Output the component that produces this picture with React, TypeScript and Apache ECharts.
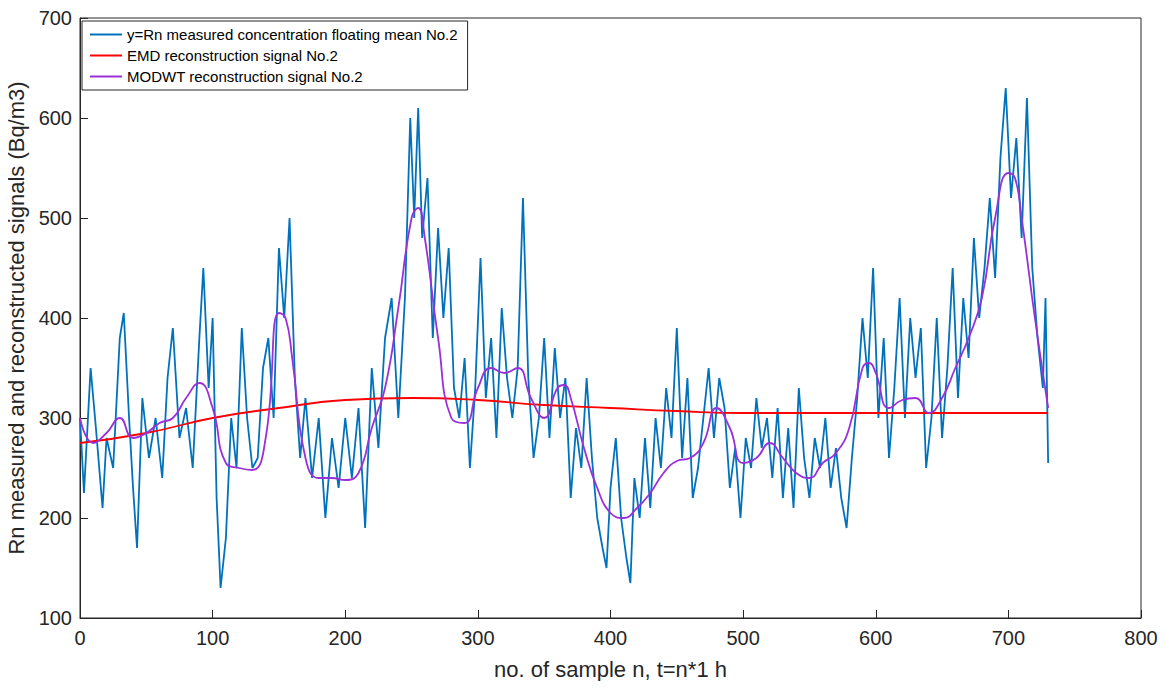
import { useEffect, useRef } from 'react'
import * as echarts from 'echarts'

// measured concentration (sample n, value)
const measuredN = [0,3,8,12,17,20,25,30,33,37,40,43,47,52,57,62,66,70,75,80,85,90,93,97,100,103,106,110,114,118,122,126,130,134,138,142,146,150,154,158,162,166,170,175,180,185,190,195,200,205,210,215,220,225,230,235,240,245,249,252,255,258,262,266,270,274,278,282,286,290,294,298,302,306,310,314,318,322,326,330,334,338,342,346,350,354,358,362,366,370,374,378,382,386,390,394,397,400,404,408,412,415,418,422,426,430,434,438,442,446,450,454,458,462,466,470,474,478,482,486,490,494,498,502,506,510,514,518,522,526,530,534,538,542,546,550,554,558,562,566,570,574,578,582,586,590,594,598,602,606,610,614,618,622,626,630,634,638,642,646,650,654,658,662,666,670,674,678,682,686,690,694,698,702,706,710,714,718,722,726,728,730]
const measuredV = [300,225,350,290,210,280,250,380,405,300,230,170,320,260,300,240,340,390,280,310,250,380,450,330,400,220,130,180,300,250,390,300,250,260,350,380,300,470,400,500,340,260,320,240,300,200,280,230,300,240,310,190,350,270,380,420,300,420,600,500,610,480,540,380,490,400,470,330,300,360,250,330,460,320,380,280,410,340,300,350,520,340,260,300,380,280,370,300,340,220,290,250,340,260,200,170,150,230,280,200,160,135,240,200,280,210,300,250,330,280,390,260,340,220,250,300,350,280,340,310,230,270,200,280,250,320,270,300,240,310,220,290,210,330,260,220,280,250,300,230,270,220,190,260,320,400,340,450,300,380,260,330,420,300,400,340,390,250,300,400,280,350,450,320,420,360,480,400,450,520,440,560,630,520,580,480,620,450,380,330,420,255]

const modwtN = [0,10,20,30,40,50,60,70,80,90,100,110,120,130,140,150,155,160,170,180,190,200,210,220,230,240,250,255,260,270,280,290,300,310,320,330,340,350,360,365,370,380,390,400,410,420,430,440,450,460,470,480,490,500,510,520,530,540,550,560,570,580,590,595,600,610,620,630,640,650,660,670,680,690,700,705,710,720,730]
const modwtV = [300,275,285,300,280,285,295,300,320,335,310,255,250,248,280,405,400,360,260,240,240,238,245,290,330,410,500,510,480,380,300,295,330,350,345,350,320,300,330,333,320,270,230,205,200,210,225,245,257,260,275,310,290,255,260,275,260,245,240,255,265,290,350,355,345,310,318,320,305,320,350,380,420,500,545,540,500,400,310]

const emdN = [0,50,100,150,200,250,300,350,400,450,500,550,600,650,730]
const emdV = [275,285,300,310,318,320,318,313,310,307,305,305,305,305,305]

const zip = (a: number[], b: number[]) => a.map((x, i) => [x, b[i]])

export default function App() {
  const ref = useRef<HTMLDivElement>(null)

  useEffect(() => {
    if (!ref.current) return
    const chart = echarts.init(ref.current, null, { renderer: 'svg' })
    const font = 'Liberation Sans, Arial, sans-serif'
    const axisCommon = {
      axisLine: { show: true, lineStyle: { color: '#262626' } },
      axisTick: { show: true, inside: true, length: 8, lineStyle: { color: '#262626' } },
      splitLine: { show: false },
    }
    chart.setOption({
      animation: false,
      textStyle: { fontFamily: font },
      grid: {
        left: 72, right: 17, top: 10, bottom: 63, outerBoundsMode: 'none', containLabel: false,
        show: true, borderColor: '#262626', borderWidth: 1,
      },
      legend: {
        orient: 'vertical',
        left: 74,
        top: 13,
        itemWidth: 32,
        itemHeight: 2,
        itemGap: 6,
        padding: [6, 10, 6, 8],
        borderColor: '#262626',
        borderWidth: 1,
        backgroundColor: '#fff',
        icon: 'rect',
        textStyle: { fontSize: 15, color: '#000', fontFamily: font },
      },
      xAxis: {
        type: 'value', min: 0, max: 800, interval: 100,
        name: 'no. of sample n, t=n*1 h', nameLocation: 'middle', nameGap: 40,
        nameTextStyle: { fontSize: 22, color: '#262626' },
        axisLabel: { fontSize: 20, color: '#262626', margin: 10 },
        ...axisCommon,
      },
      yAxis: {
        type: 'value', min: 100, max: 700, interval: 100,
        name: 'Rn measured and reconstructed signals (Bq/m3)', nameLocation: 'middle', nameGap: 40,
        nameTextStyle: { fontSize: 22, color: '#262626' },
        axisLabel: { fontSize: 20, color: '#262626', margin: 8 },
        ...axisCommon,
      },
      series: [
        {
          name: 'y=Rn measured concentration floating mean No.2', type: 'line',
          data: zip(measuredN, measuredV), showSymbol: false, symbol: 'none',
          lineStyle: { color: '#0072BD', width: 1.8 }, itemStyle: { color: '#0072BD' },
        },
        {
          name: 'EMD reconstruction signal No.2', type: 'line', smooth: true,
          data: zip(emdN, emdV), symbol: 'none',
          lineStyle: { color: '#ff0000', width: 1.8 }, itemStyle: { color: '#ff0000' },
        },
        {
          name: 'MODWT reconstruction signal No.2', type: 'line', smooth: true,
          data: zip(modwtN, modwtV), symbol: 'none',
          lineStyle: { color: '#9B30D9', width: 1.8 }, itemStyle: { color: '#9B30D9' },
        },
      ],
    })
    return () => chart.dispose()
  }, [])

  return <div ref={ref} style={{ width: 1150, height: 673 }} />
}
